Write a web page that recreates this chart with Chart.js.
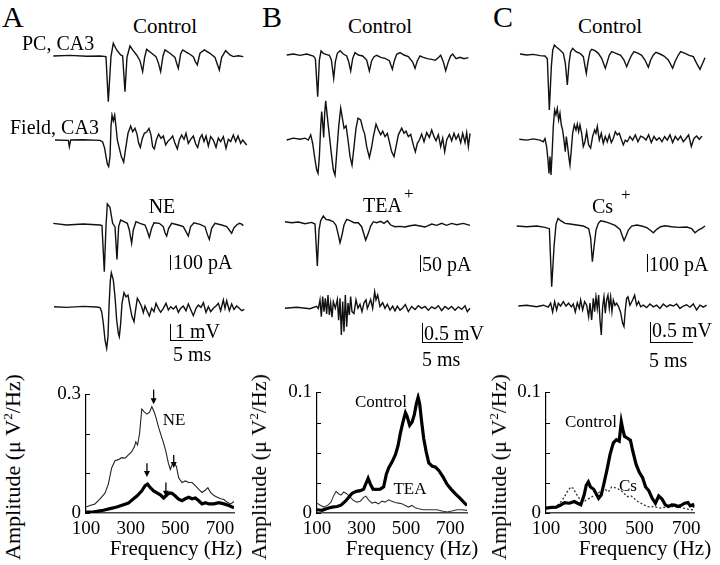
<!DOCTYPE html>
<html>
<head>
<meta charset="utf-8">
<script src="https://cdn.jsdelivr.net/npm/chart.js@4.4.0/dist/chart.umd.min.js"></script>
<style>
html, body { margin: 0; padding: 0; background: #fff; }
#fig { position: relative; width: 720px; height: 565px; overflow: hidden; font-family: "Liberation Serif", "Times New Roman", serif; color: #000; }
#fig canvas { position: absolute; }
.t { position: absolute; white-space: nowrap; line-height: 1; }
.bar { position: absolute; background: #000; }
sup { font-size: 0.6em; vertical-align: 0.6em; line-height: 0; }
</style>
</head>
<body>
<div id="fig"></div>
<script>
// ---- traces: [time (ms), amplitude (pA or mV)] ----
const aPcCtrl = [[0,0],[2.5,4],[5,-2],[7,0],[7.9,-4],[8.25,-301],[8.65,-4],[9,84],[9.5,40],[10.1,7],[10.4,0],[10.75,-235],[11.05,-9],[11.5,66],[11.9,40],[12.5,7],[13,-31],[13.4,-103],[13.7,-9],[14,44],[14.75,18],[15.4,-4],[15.75,-44],[16.1,-103],[16.45,0],[16.75,40],[17.5,18],[18.25,-9],[18.5,-48],[18.75,-81],[19.1,13],[19.4,40],[20.25,18],[21,-4],[21.3,-37],[21.6,-59],[22,18],[22.65,40],[23.5,18],[24.25,-9],[24.55,-48],[24.9,-92],[25.25,-9],[25.85,35],[26.5,7],[27,-4],[27.75,2],[28.5,-4]];
const aFieldCtrl = [[0,0],[2,-0.02],[2.15,-0.42],[2.35,0],[4.25,0.02],[6.75,-0.02],[7.15,-0.12],[7.45,-0.52],[7.65,-1.04],[7.85,-1.5],[8.05,-1.66],[8.25,-1.04],[8.4,0.83],[8.55,1.56],[8.75,1.2],[8.95,1.56],[9.15,0.83],[9.35,0],[9.65,-0.52],[9.95,-1.04],[10.3,-1.39],[10.6,-0.52],[10.95,0.42],[11.35,0.87],[11.65,0.52],[12,0.73],[12.3,0.37],[12.55,-0.21],[12.8,-0.46],[13.1,0.1],[13.4,0.42],[13.75,0.5],[14.1,0.73],[14.4,0.31],[14.65,-0.42],[14.9,-0.56],[15.2,0],[15.55,0.37],[15.9,0.1],[16.25,0.25],[16.6,-0.31],[16.9,-0.1],[17.25,0.04],[17.65,0.25],[18,-0.21],[18.35,-0.56],[18.65,0],[19,0.31],[19.35,0.04],[19.65,0.42],[20,-0.21],[20.35,0.04],[20.75,0.25],[21.1,-0.25],[21.4,-0.46],[21.75,0.12],[22.05,0.33],[22.35,-0.1],[22.65,0.25],[23,-0.37],[23.35,0.21],[23.75,0],[24.15,-0.46],[24.5,0.12],[24.85,-0.1],[25.25,0.21],[25.65,-0.52],[26,0.04],[26.35,-0.1],[26.75,0.31],[27.1,-0.1],[27.45,0.25],[27.85,-0.21],[28.15,0],[28.75,-0.31]];
const aPcNE = [[0,11],[2,0],[4.5,7],[7,0],[7.3,-4],[7.65,-308],[7.9,-11],[8.1,139],[8.5,117],[8.9,11],[9.25,-11],[9.55,-227],[9.8,-11],[10.1,33],[10.6,22],[11.1,11],[11.4,-33],[11.75,-121],[12,-33],[12.4,22],[13,11],[13.75,0],[14.05,-33],[14.4,-81],[14.75,-22],[15.1,15],[15.9,11],[16.5,-11],[16.75,-51],[17,-73],[17.3,-22],[17.75,11],[18.75,0],[19.5,-11],[19.9,-44],[20.25,-73],[20.6,-11],[21.1,15],[22,4],[22.75,-11],[23.1,-62],[23.4,-95],[23.75,-22],[24.25,11],[25.25,0],[26,-11],[26.4,-33],[26.75,-55],[27.1,-18],[27.5,0],[27.9,11],[28.2,7],[28.5,-4]];
const aFieldNE = [[0,0],[1.9,-0.04],[4.4,0.02],[6.4,-0.02],[6.9,-0.06],[7.15,-0.31],[7.4,-1.04],[7.65,-2.08],[7.9,-2.6],[8.1,-1.87],[8.25,0],[8.45,1.66],[8.6,2.12],[8.9,1.66],[9.15,0.62],[9.4,-0.83],[9.65,-1.66],[9.8,-1.87],[10,-1.04],[10.2,0.21],[10.5,0.87],[10.8,0.62],[11.1,0.73],[11.4,0],[11.7,-0.62],[12,-0.94],[12.2,-0.31],[12.5,0.52],[12.8,0.31],[13.15,0],[13.4,-0.37],[13.65,0.04],[13.9,-0.21],[14.3,-0.58],[14.65,-0.1],[15,-0.31],[15.3,0.21],[15.65,-0.1],[16,-0.35],[16.4,-0.1],[16.8,0.21],[17.15,-0.21],[17.5,0],[17.9,-0.15],[18.3,0.04],[18.65,-0.35],[19,-0.1],[19.4,0.04],[19.8,-0.25],[20.15,0.17],[20.5,-0.17],[20.9,-0.56],[21.3,-0.1],[21.65,0.1],[22.05,-0.04],[22.4,0.25],[22.8,-0.35],[23.15,0],[23.5,-0.31],[23.9,-0.1],[24.3,0.04],[24.65,0.21],[25,-0.25],[25.4,0.42],[25.65,-0.1],[25.9,0.37],[26.3,-0.25],[26.65,0.17],[27,-0.17],[27.4,0.04],[27.8,-0.1],[28.15,-0.25],[28.55,-0.17]];

const bPcCtrl = [[0,0],[0.8,3],[1.6,-1],[2.4,3],[3.2,-3],[3.44,-11],[3.72,-125],[3.92,-15],[4.12,12],[4.4,5],[4.72,2],[5.12,-1],[5.36,-15],[5.64,-70],[5.84,-20],[6.08,5],[6.4,13],[6.8,3],[7.2,-3],[7.44,-20],[7.68,-48],[7.92,-10],[8.2,7],[8.6,0],[9.12,-3],[9.6,-15],[9.92,-48],[10.2,-17],[10.48,-5],[10.8,-1],[11.28,-7],[11.8,-10],[12.32,-17],[12.68,-43],[12.92,-17],[13.2,2],[13.6,7],[14.08,0],[14.6,-5],[15.12,-21],[15.4,-40],[15.68,-17],[16,-3],[16.4,-7],[16.88,-11],[17.4,-13],[17.84,-16],[18.24,-7],[18.48,-1],[18.8,-21],[19.08,-47],[19.4,-20],[19.68,-3],[19.92,3],[20.32,-11],[20.8,-7],[21.28,-11],[21.8,-8]];
const bFieldCtrl = [[0,0],[0.8,0.05],[1.6,0.02],[2.2,0.05],[2.6,0],[2.88,0.14],[3.12,-0.09],[3.4,-0.54],[3.6,-0.81],[3.76,-0.9],[3.92,-0.45],[4.08,0.36],[4.2,0.77],[4.32,0.45],[4.44,0.07],[4.56,0.72],[4.68,1.06],[5,0.36],[5.4,-0.45],[5.6,-0.81],[5.8,-0.95],[6,-0.36],[6.24,0.36],[6.48,0.86],[6.72,0.54],[6.88,0.32],[7.12,0.38],[7.36,0],[7.6,-0.45],[7.84,-0.68],[8.08,-0.18],[8.32,0.32],[8.56,0.59],[8.88,0.54],[9.12,0.32],[9.36,0.16],[9.6,-0.18],[9.92,-0.47],[10.16,-0.23],[10.4,0.09],[10.72,0.43],[11,0.27],[11.28,0.14],[11.52,0.24],[11.8,0.09],[12.08,0.18],[12.32,-0.05],[12.6,-0.32],[12.88,-0.45],[13.12,-0.18],[13.4,0.14],[13.8,0.32],[14.08,0.18],[14.32,0.24],[14.6,0.09],[14.88,0.15],[15.2,-0.14],[15.44,-0.32],[15.68,-0.09],[15.92,0],[16.2,0.16],[16.48,-0.05],[16.8,0.2],[17.12,0.07],[17.4,0.27],[17.68,0.09],[17.92,-0.02],[18.2,0.14],[18.48,-0.18],[18.72,0.05],[18.96,-0.32],[19.2,0],[19.52,0.15],[19.8,-0.02],[20.08,0.18],[20.32,0.02],[20.6,0.15],[20.88,-0.07],[21.12,0.18],[21.4,-0.07],[21.6,0.2],[21.8,-0.18],[22,0.18]];
const bPcTEA = [[0,3],[0.8,0],[1.6,2],[2.4,-3],[3.2,1],[3.6,-4],[3.88,-130],[4.08,-22],[4.28,6],[4.6,20],[4.92,10],[5.32,8],[5.8,3],[6.12,-8],[6.36,-32],[6.6,-60],[6.84,-37],[7.08,-7],[7.4,10],[7.8,6],[8.28,0],[8.8,0],[9.2,-12],[9.68,-52],[10,-32],[10.28,-10],[10.6,3],[11,0],[11.48,4],[11.88,-2],[12.28,6],[12.68,-7],[13.2,-12],[13.8,-11],[14.4,-13],[15,-9],[15.6,-7],[16.2,-10],[16.8,-13],[17.6,-4],[18.2,-8],[18.8,-2],[19.4,-8],[20,-2],[20.6,-6],[21.4,-2],[22.2,-8]];
const bFieldTEA = [[0,0],[1.4,0.03],[3,-0.01],[3.8,0.05],[4,-0.01],[4.2,0.23],[4.36,-0.23],[4.52,0.32],[4.68,-0.09],[4.84,0.27],[5,-0.15],[5.16,0.36],[5.32,-0.18],[5.48,0.14],[5.64,-0.24],[5.8,0.18],[6.04,0],[6.28,0.24],[6.44,-0.32],[6.6,0.27],[6.76,-0.72],[6.92,0.18],[7.08,-0.63],[7.24,0.36],[7.4,-0.5],[7.56,0.14],[7.72,-0.18],[7.88,0.32],[8.04,-0.09],[8.28,-0.14],[8.52,0.23],[8.76,0],[9,0.11],[9.24,-0.09],[9.48,0.15],[9.72,0.23],[9.88,0],[10.04,0.09],[10.28,0.24],[10.52,0],[10.76,0.45],[10.92,0.23],[11.12,0.36],[11.4,0.05],[11.72,0.15],[12,0],[12.28,0.11],[12.6,-0.05],[12.92,0.06],[13.2,-0.07],[13.48,0.06],[13.8,-0.05],[14.12,0.01],[14.44,0.1],[14.8,-0.09],[15.2,0.05],[15.6,-0.03],[16,0.07],[16.4,0],[16.8,0.05],[17.2,-0.05],[17.6,0.04],[18,-0.01],[18.4,0.07],[18.8,-0.06],[19.2,0.05],[19.6,-0.02],[20,0.05],[20.4,-0.05],[20.8,0.04],[21.2,-0.03],[21.6,0.07],[21.88,-0.09],[22.2,0]];

const cPcCtrl = [[0,6],[0.8,0],[1.6,4],[2.4,-4],[3,-6],[3.28,-22],[3.52,-330],[3.76,-70],[3.92,26],[4.12,60],[4.4,46],[4.8,30],[5.2,10],[5.44,-50],[5.68,-180],[5.88,-50],[6.08,20],[6.32,40],[6.72,20],[7.2,10],[7.6,-10],[7.8,-66],[7.96,-110],[8.16,-40],[8.4,20],[8.6,34],[9,26],[9.4,10],[9.8,-20],[10.24,-80],[10.48,-40],[10.72,0],[11,20],[11.52,10],[12.08,-2],[12.48,-30],[12.8,-70],[13.12,-30],[13.4,0],[13.68,20],[14.2,10],[14.6,-2],[15,-30],[15.4,-74],[15.68,-30],[16,0],[16.32,16],[16.8,6],[17.28,-6],[17.8,-30],[18.32,-80],[18.6,-40],[19,0],[19.28,20],[19.8,10],[20.32,-2],[20.8,-10],[21.2,-50],[21.6,-86],[21.92,-50],[22.2,-16]];
const cFieldCtrl = [[0,0],[0.88,-0.02],[1.68,0.01],[2.48,-0.02],[2.88,-0.06],[3.08,0.02],[3.28,-0.18],[3.44,-0.51],[3.56,-0.85],[3.68,-0.43],[3.8,-0.89],[3.92,-0.43],[4.08,0.32],[4.24,0.73],[4.4,0.61],[4.56,0.77],[4.72,0.48],[4.88,0.65],[5.04,0.36],[5.2,0.23],[5.36,-0.02],[5.52,-0.31],[5.64,0.07],[5.8,-0.18],[5.96,-0.47],[6.08,-0.64],[6.24,-0.27],[6.4,0.15],[6.6,0.36],[6.8,0.23],[6.96,0.38],[7.12,0.19],[7.28,0.36],[7.48,0.15],[7.68,-0.18],[7.88,-0.06],[8.08,0.19],[8.32,-0.14],[8.56,-0.22],[8.8,0.07],[9.04,0.23],[9.2,0.15],[9.36,0.32],[9.6,-0.02],[9.84,0.15],[10.08,-0.1],[10.32,0.07],[10.56,-0.06],[10.8,0.11],[11.04,-0.08],[11.28,0.02],[11.52,0.19],[11.76,0.11],[12,0.15],[12.24,0],[12.48,-0.14],[12.72,-0.02],[12.96,-0.06],[13.28,0.07],[13.6,-0.02],[13.92,0.11],[14.24,-0.06],[14.56,0.08],[14.88,0.05],[15.2,-0.02],[15.52,0.11],[15.84,-0.08],[16.16,0.07],[16.48,-0.02],[16.8,0.04],[17.12,-0.06],[17.44,0.07],[17.76,-0.02],[18.08,0.11],[18.4,-0.08],[18.72,0.07],[19.04,-0.02],[19.36,0.08],[19.68,-0.06],[20,0.02],[20.32,0.11],[20.64,-0.18],[20.96,0.02],[21.28,0.08],[21.6,0],[21.92,0.08]];
const cPcCs = [[0,4],[1.2,0],[2.4,4],[3.4,-4],[3.92,-12],[4.2,-360],[4.48,-120],[4.72,16],[4.96,50],[5.28,36],[5.8,20],[6.4,16],[7.2,10],[8,4],[8.64,-12],[8.88,-70],[9.08,-210],[9.28,-120],[9.52,-20],[9.8,20],[10.08,36],[10.6,30],[11.2,20],[11.8,8],[12.4,-16],[12.68,-56],[12.88,-84],[13.12,-56],[13.4,-20],[13.8,4],[14.4,10],[15,4],[15.6,-6],[16,-20],[16.4,-36],[16.8,-16],[17.28,0],[17.8,6],[18.6,0],[19.4,-4],[20.4,-2],[21,-12],[21.4,-36],[21.8,-20],[22.2,-10],[22.6,4]];
const cFieldCs = [[0,0],[1,0.02],[2.2,-0.02],[3,0.02],[3.6,-0.03],[3.88,0.07],[4.12,-0.15],[4.36,0.11],[4.6,-0.1],[4.8,0.07],[5.08,0],[5.4,0.11],[5.72,0],[6.04,0.07],[6.36,-0.02],[6.6,0.05],[6.84,-0.15],[7.08,0.08],[7.32,-0.06],[7.48,0.15],[7.72,-0.1],[7.96,0.11],[8.2,0.02],[8.44,-0.27],[8.6,0.07],[8.8,-0.35],[9,0.19],[9.16,-0.14],[9.32,0.23],[9.48,-0.06],[9.64,0.27],[9.8,-0.35],[9.96,-0.72],[10.12,-0.02],[10.28,0.23],[10.44,-0.18],[10.6,0.15],[10.76,0.27],[10.92,-0.06],[11.08,0.23],[11.24,-0.14],[11.4,0.15],[11.6,0.02],[11.8,0.07],[12.04,-0.02],[12.28,-0.16],[12.52,-0.43],[12.68,-0.51],[12.84,-0.1],[13,0.19],[13.16,0.23],[13.4,0.02],[13.72,0.15],[13.96,0.27],[14.2,0.02],[14.44,0.11],[14.68,-0.02],[15,0.02],[15.4,-0.04],[15.8,0.05],[16.2,-0.02],[16.6,0.02],[17,-0.06],[17.4,0.05],[17.8,-0.02],[18.2,0.03],[18.6,0],[19,0.05],[19.4,-0.06],[19.8,0],[20.2,0.03],[20.6,-0.03],[21,0.05],[21.4,-0.1],[21.8,0.02],[22.2,-0.03],[22.6,0.02]];

// ---- spectra: [frequency (Hz), amplitude (uV^2/Hz)] ----
const specA_NE = [[100,0.015],[118,0.019],[140,0.023],[163,0.036],[185,0.05],[200,0.073],[215,0.114],[230,0.132],[245,0.135],[260,0.14],[275,0.139],[290,0.147],[305,0.155],[317,0.168],[323,0.18],[331,0.172],[340,0.201],[350,0.263],[361,0.256],[373,0.25],[385,0.255],[395,0.269],[406,0.255],[415,0.238],[425,0.217],[436,0.197],[448,0.176],[458,0.155],[469,0.126],[478,0.11],[485,0.121],[493,0.129],[505,0.118],[515,0.089],[530,0.077],[545,0.081],[560,0.077],[575,0.077],[590,0.069],[605,0.06],[620,0.052],[635,0.058],[646,0.064],[658,0.052],[673,0.044],[688,0.04],[703,0.036],[718,0.034],[733,0.027],[748,0.023],[763,0.029]];
const specA_Ctrl = [[100,0.002],[125,0.002],[148,0.004],[178,0.007],[208,0.011],[238,0.015],[268,0.021],[290,0.025],[313,0.036],[328,0.043],[350,0.056],[365,0.069],[376,0.073],[388,0.064],[403,0.056],[418,0.051],[433,0.046],[448,0.038],[463,0.046],[475,0.051],[485,0.05],[500,0.043],[515,0.035],[530,0.031],[545,0.036],[560,0.04],[575,0.036],[590,0.038],[605,0.031],[620,0.023],[635,0.026],[650,0.023],[673,0.023],[695,0.026],[718,0.023],[740,0.019],[763,0.013]];
const specA_arrows = [[403,0.312,0.275],[493,0.147,0.114],[373,0.126,0.091],[458,0.077,0.041]];
const specB_Ctrl = [[100,0.0027],[123,0.0022],[145,0.0038],[168,0.0049],[190,0.0054],[208,0.0065],[228,0.0098],[243,0.013],[258,0.0163],[277,0.0179],[295,0.0185],[310,0.0198],[322,0.0253],[330,0.0288],[340,0.0239],[352,0.0198],[367,0.0196],[385,0.0198],[400,0.0217],[412,0.0321],[423,0.0375],[438,0.0424],[453,0.0484],[465,0.056],[475,0.066],[487,0.0755],[498,0.0832],[505,0.0804],[517,0.0728],[528,0.0755],[538,0.0815],[547,0.0905],[555,0.0959],[562,0.0905],[571,0.0755],[580,0.062],[591,0.0511],[603,0.0416],[618,0.0389],[633,0.038],[648,0.0353],[667,0.0299],[685,0.0239],[703,0.0198],[723,0.0158],[742,0.0125],[760,0.009],[775,0.0063]];
const specB_TEA = [[100,0.0082],[115,0.0065],[130,0.0049],[148,0.0063],[163,0.009],[175,0.0144],[186,0.0179],[198,0.0158],[208,0.0149],[220,0.0174],[235,0.0158],[250,0.013],[265,0.0103],[280,0.009],[295,0.0098],[310,0.013],[320,0.0139],[332,0.0109],[347,0.0082],[362,0.009],[377,0.0076],[392,0.0098],[407,0.009],[422,0.0109],[437,0.0098],[452,0.0087],[467,0.0082],[482,0.0076],[497,0.0063],[512,0.0049],[527,0.0063],[542,0.0043],[557,0.0035],[580,0.0027],[610,0.0027],[640,0.0027],[662,0.0016],[685,0.0008],[707,0.0016],[730,0.0027],[752,0.0027],[775,0.0022]];
const specC_Ctrl = [[100,0.0041],[124,0.0046],[144,0.0049],[165,0.0068],[179,0.0086],[200,0.0081],[221,0.0095],[235,0.0081],[249,0.0068],[263,0.0149],[272,0.023],[281,0.0257],[290,0.0216],[304,0.0197],[314,0.0162],[325,0.0122],[336,0.0149],[346,0.023],[360,0.0351],[374,0.0486],[388,0.0581],[401,0.0608],[413,0.0595],[422,0.0757],[429,0.0689],[436,0.0635],[447,0.0622],[461,0.0603],[471,0.0514],[485,0.0405],[499,0.0338],[513,0.0292],[526,0.0216],[540,0.0184],[554,0.0122],[568,0.0081],[582,0.0141],[596,0.0116],[610,0.0068],[624,0.0054],[638,0.0068],[651,0.0065],[665,0.0054],[679,0.0065],[693,0.0081],[707,0.0086],[717,0.0059],[728,0.0068],[735,0.0049]];
const specC_Cs = [[100,0.0038],[124,0.0046],[144,0.0054],[165,0.0095],[179,0.0135],[193,0.0184],[207,0.0216],[217,0.0203],[228,0.0162],[242,0.0122],[256,0.0095],[269,0.0103],[283,0.0119],[297,0.0135],[311,0.0149],[325,0.0168],[339,0.0189],[353,0.0195],[367,0.0176],[381,0.0216],[394,0.0211],[408,0.02],[422,0.0184],[436,0.0157],[450,0.0135],[464,0.0141],[478,0.0119],[492,0.0095],[506,0.0081],[519,0.0068],[533,0.0054],[547,0.0049],[561,0.0054],[575,0.0046],[589,0.0041],[617,0.0049],[644,0.0054],[665,0.0049],[686,0.0041],[707,0.0032],[721,0.0027],[735,0.0027]];
const freqTicks = [100, 300, 500, 700];

const fig = document.getElementById('fig');
Chart.defaults.font.family = '"Liberation Serif", "Times New Roman", serif';
Chart.defaults.color = '#000';

function addCanvas(left, top, w, h) {
    const cv = document.createElement('canvas');
    cv.width = w; cv.height = h;
    cv.style.left = left + 'px'; cv.style.top = top + 'px';
    fig.appendChild(cv);
    return cv;
}

// one trace = one small chart with hidden axes, placed so its scales hit the figure
function trace(pts, x0, base, pxPerMs, pxPerUnit) {
    const ts = pts.map(p => p[0]), vs = pts.map(p => p[1]);
    const left = Math.floor(x0 + Math.min(...ts) * pxPerMs - 3);
    const right = Math.ceil(x0 + Math.max(...ts) * pxPerMs + 3);
    const top = Math.floor(base - Math.max(...vs) * pxPerUnit - 3);
    const bottom = Math.ceil(base - Math.min(...vs) * pxPerUnit + 3);
    const cv = addCanvas(left, top, right - left, bottom - top);
    new Chart(cv, {
        type: 'line',
        data: { datasets: [{ data: pts.map(p => ({ x: p[0], y: p[1] })), borderColor: '#111', borderWidth: 1.4, pointRadius: 0, tension: 0 }] },
        options: {
            responsive: false, animation: false, events: [],
            layout: { padding: 0 },
            plugins: { legend: { display: false }, tooltip: { enabled: false } },
            scales: {
                x: { type: 'linear', display: false, min: (left - x0) / pxPerMs, max: (right - x0) / pxPerMs },
                y: { display: false, min: (base - bottom) / pxPerUnit, max: (base - top) / pxPerUnit }
            }
        }
    });
}

// inward ticks on the amplitude axis + arrows
const specPlugin = {
    id: 'specExtras',
    afterDraw(chart, args, opts) {
        const ctx = chart.ctx, xs = chart.scales.x, ys = chart.scales.y;
        ctx.save();
        ctx.strokeStyle = '#000'; ctx.lineWidth = 1;
        ys.ticks.forEach(t => {
            const py = Math.round(ys.getPixelForValue(t.value)) + 0.5;
            ctx.beginPath(); ctx.moveTo(xs.left, py); ctx.lineTo(xs.left + 4, py); ctx.stroke();
        });
        (opts.arrows || []).forEach(a => {
            const px = xs.getPixelForValue(a[0]);
            const y1 = ys.getPixelForValue(a[1]), y2 = ys.getPixelForValue(a[2]);
            ctx.lineWidth = 1.3;
            ctx.beginPath(); ctx.moveTo(px, y1); ctx.lineTo(px, y2 - 4); ctx.stroke();
            ctx.fillStyle = '#000';
            ctx.beginPath(); ctx.moveTo(px - 3, y2 - 6); ctx.lineTo(px + 3, y2 - 6); ctx.lineTo(px, y2); ctx.closePath(); ctx.fill();
        });
        ctx.restore();
    }
};

function spectrum(area, xMax, yMax, yStep, yTop, sets, arrows) {
    const padL = 44, padT = 14, padR = 8, padB = 34;
    const cv = addCanvas(area.left - padL, area.top - padT, area.right - area.left + padL + padR, area.bottom - area.top + padT + padB);
    new Chart(cv, {
        type: 'line',
        data: { datasets: sets.map(s => ({
            data: s.pts.map(p => ({ x: p[0], y: p[1] })),
            borderColor: s.color, borderWidth: s.width, borderDash: s.dash || [],
            pointRadius: 0, tension: 0, order: s.order
        })) },
        options: {
            responsive: false, animation: false, events: [],
            layout: { padding: { top: padT, right: padR, left: 0, bottom: 0 } },
            plugins: { legend: { display: false }, tooltip: { enabled: false }, specExtras: { arrows: arrows } },
            scales: {
                x: {
                    type: 'linear', min: 100, max: xMax,
                    afterBuildTicks: s => { s.ticks = freqTicks.map(v => ({ value: v })); },
                    afterFit: s => { s.height = padB; },
                    grid: { drawOnChartArea: false, drawTicks: false },
                    border: { color: '#444', width: 1.5 },
                    ticks: { font: { size: 19 }, padding: 5, maxRotation: 0, autoSkip: false }
                },
                y: {
                    min: 0, max: yMax,
                    afterFit: s => { s.width = padL; },
                    grid: { drawOnChartArea: false, drawTicks: false },
                    border: { color: '#000', width: 1.2 },
                    ticks: {
                        stepSize: yStep, font: { size: 19 }, padding: 5,
                        callback: v => Math.abs(v) < 1e-9 ? '0' : (Math.abs(v - yMax) < 1e-9 ? yTop : '')
                    }
                }
            }
        },
        plugins: [specPlugin]
    });
}

function txt(html, x, cy, size, align) {
    const d = document.createElement('div');
    d.className = 't';
    d.innerHTML = html;
    d.style.fontSize = size + 'px';
    d.style.left = x + 'px';
    d.style.top = (cy - size / 2) + 'px';
    if (align === 'center') d.style.transform = 'translateX(-50%)';
    fig.appendChild(d);
}
function vtxt(html, cx, cy, size) {
    const d = document.createElement('div');
    d.className = 't';
    d.innerHTML = html;
    d.style.fontSize = size + 'px';
    d.style.left = cx + 'px';
    d.style.top = cy + 'px';
    d.style.transform = 'translate(-50%, -50%) rotate(-90deg)';
    fig.appendChild(d);
}
function bar(x, y, w, h) {
    const d = document.createElement('div');
    d.className = 'bar';
    d.style.left = x + 'px'; d.style.top = y + 'px';
    d.style.width = w + 'px'; d.style.height = h + 'px';
    fig.appendChild(d);
}

// ---- panel A ----
trace(aPcCtrl, 53.3, 56, 6.667, 0.1515);
trace(aFieldCtrl, 55, 140, 6.667, 16);
trace(aPcNE, 53.3, 225, 6.667, 0.1515);
trace(aFieldNE, 54, 306.7, 6.667, 16);
// ---- panel B ----
trace(bPcCtrl, 286.7, 55, 8.333, 0.3333);
trace(bFieldCtrl, 286.7, 140, 8.333, 37.04);
trace(bPcTEA, 285, 222.7, 8.333, 0.3333);
trace(bFieldTEA, 285, 308.3, 8.333, 37.04);
// ---- panel C ----
trace(cPcCtrl, 520, 55, 8.333, 0.1667);
trace(cFieldCtrl, 519.3, 139.3, 8.333, 40.16);
trace(cPcCs, 516.7, 226.7, 8.333, 0.1667);
trace(cFieldCs, 518.3, 306, 8.333, 40.16);

// ---- spectra ----
spectrum({ left: 86, top: 392, right: 234, bottom: 513 }, 763, 0.3, 0.1, '0.3', [
    { pts: specA_NE, color: '#222', width: 1.1, order: 2 },
    { pts: specA_Ctrl, color: '#000', width: 3.2, order: 1 }
], specA_arrows);
spectrum({ left: 317, top: 390, right: 467, bottom: 513 }, 775, 0.1, 0.025, '0.1', [
    { pts: specB_TEA, color: '#333', width: 1.1, order: 2 },
    { pts: specB_Ctrl, color: '#000', width: 3.2, order: 1 }
], []);
spectrum({ left: 546, top: 390, right: 698, bottom: 513 }, 735, 0.1, 0.025, '0.1', [
    { pts: specC_Cs, color: '#333', width: 1.3, dash: [2, 2], order: 2 },
    { pts: specC_Ctrl, color: '#000', width: 3.2, order: 1 }
], []);

// ---- text ----
txt('A', 2, 17, 30);
txt('B', 262, 17, 30);
txt('C', 493, 17, 30);
txt('Control', 165, 26.5, 21, 'center');
txt('Control', 380, 26.5, 21, 'center');
txt('Control', 610, 26.5, 21, 'center');
txt('PC, CA3', 22, 42.5, 20);
txt('Field, CA3', 10, 126.5, 20);
txt('NE', 162, 206, 20, 'center');
txt('TEA', 363, 204.5, 20);
txt('+', 404, 193, 17);
txt('Cs', 592, 206, 20);
txt('+', 621, 194, 17);

// scale bars
bar(169.5, 255, 1.4, 15); txt('100 pA', 173, 262, 20);
bar(169.5, 324, 1.4, 17); bar(169.5, 339.6, 33.5, 1.4); txt('1 mV', 175, 331, 20); txt('5 ms', 173, 354, 20);
bar(419.5, 255, 1.4, 17); txt('50 pA', 422, 264, 20);
bar(421.5, 323, 1.4, 19); bar(421.5, 341.6, 41.5, 1.4); txt('0.5 mV', 424, 333, 20); txt('5 ms', 422, 359, 20);
bar(646.5, 254, 1.4, 18); txt('100 pA', 649, 264, 20);
bar(649.5, 322, 1.4, 20); bar(649.5, 341.6, 43.5, 1.4); txt('0.5 mV', 652, 330, 20); txt('5 ms', 649, 360, 20);

// spectrum labels
txt('NE', 174, 419, 17, 'center');
txt('Control', 381, 401, 17, 'center');
txt('TEA', 410, 488, 17, 'center');
txt('Control', 591, 421, 17, 'center');
txt('Cs', 628, 485, 17, 'center');
txt('Frequency (Hz)', 176, 548, 21, 'center');
txt('Frequency (Hz)', 412, 548, 21, 'center');
txt('Frequency (Hz)', 645, 548, 21, 'center');
vtxt('Amplitude (μ V<sup>2</sup>/Hz)', 13, 467, 22);
vtxt('Amplitude (μ V<sup>2</sup>/Hz)', 259, 467, 22);
vtxt('Amplitude (μ V<sup>2</sup>/Hz)', 499, 467, 22);
</script>
</body>
</html>
